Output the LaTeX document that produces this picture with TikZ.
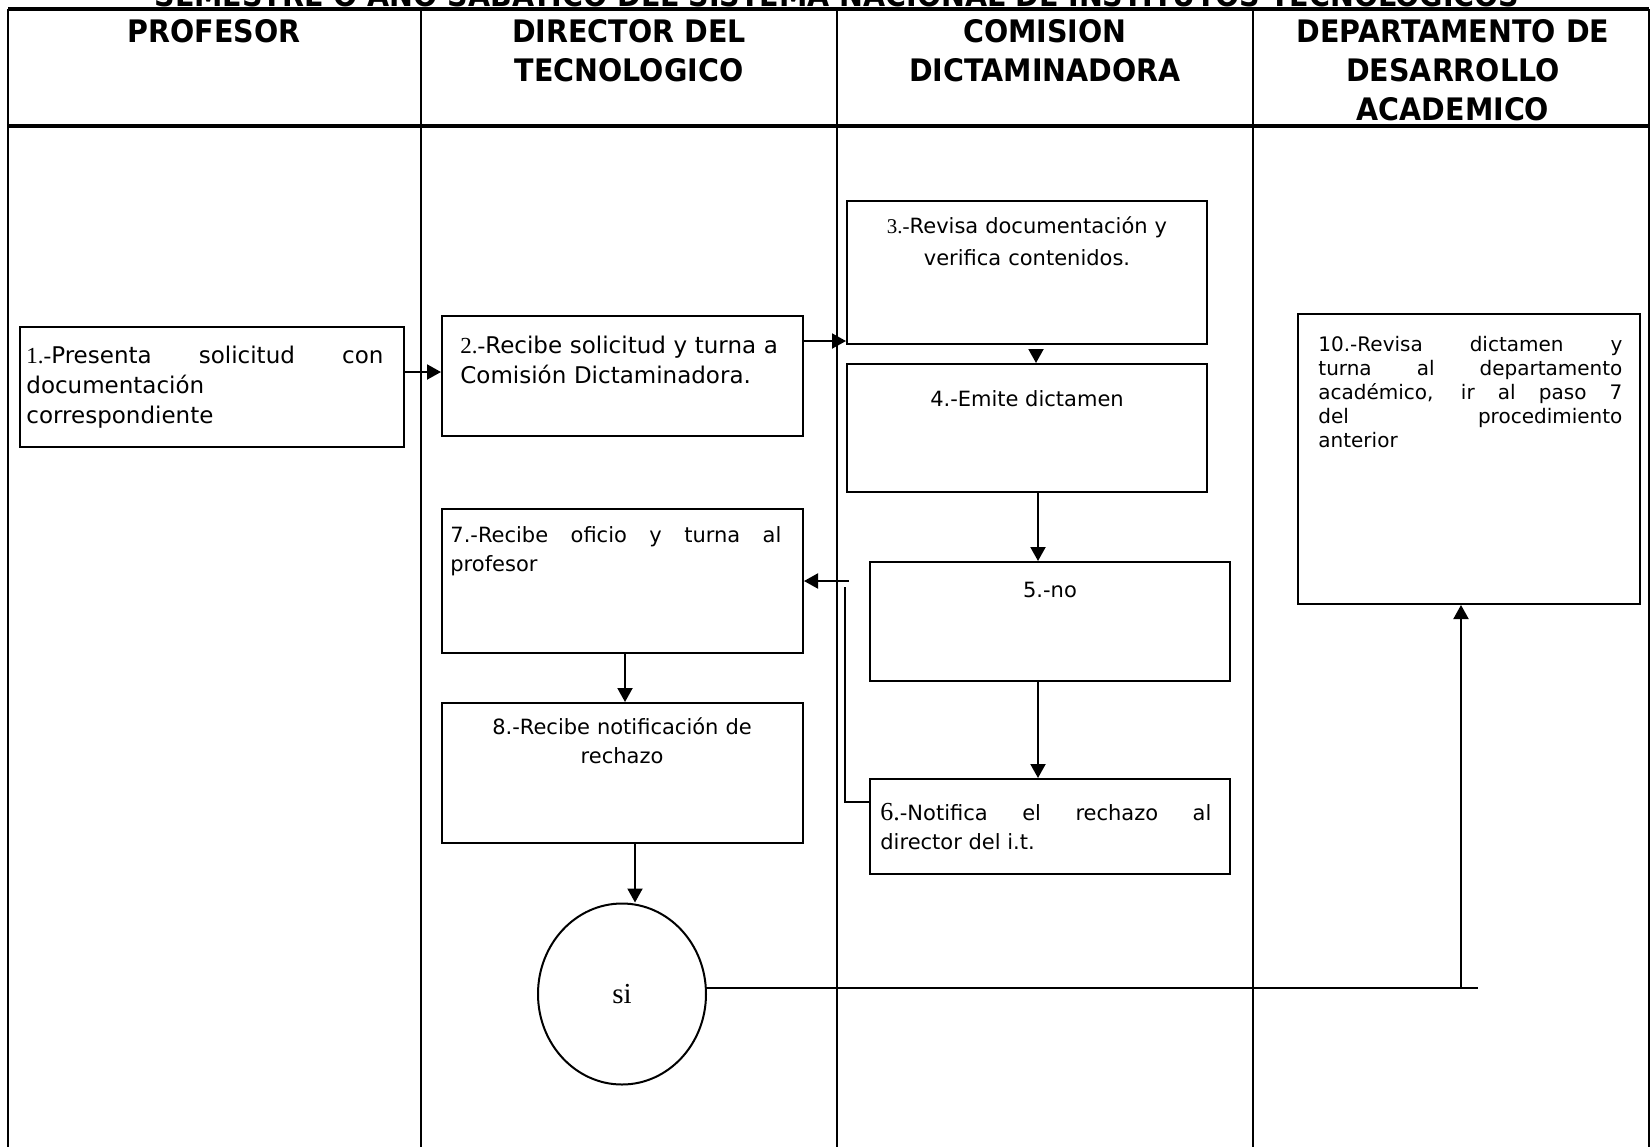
\documentclass[tikz,border=0pt]{standalone}
\usepackage{fontspec}
\setmainfont{DejaVu Sans}
\newfontfamily\headfont{DejaVu Sans Bold}[FakeStretch=0.92]
\newfontfamily\numfont{Liberation Serif}
\usetikzlibrary{arrows.meta,fit,shapes.geometric}

\tikzset{
  laneline/.style={line width=1.1pt},
  frameline/.style={line width=1.6pt},
  box/.style={draw, line width=1pt, inner sep=0pt},
  body/.style={inner sep=0pt, anchor=base west, align=justify},
  bodyc/.style={inner sep=0pt, anchor=base, align=center},
  big/.style={font=\fontsize{11.5}{15}\selectfont},
  mid/.style={font=\fontsize{10.5}{14.5}\selectfont},
  small/.style={font=\fontsize{10}{12}\selectfont},
  flow/.style={line width=1pt, -{Triangle[length=7pt,width=7.5pt]}},
  link/.style={line width=1pt},
  head/.style={font=\headfont\fontsize{15.5}{19.5}\selectfont, align=center, anchor=base,
               inner sep=0pt},
}

\begin{document}
\begin{tikzpicture}[x=0.5pt, y=-0.5pt]
\useasboundingbox (0,0) rectangle (1651,1147);

% title line, cut by the top of the page
\node[head] (title) at (837,6) {SEMESTRE O AÑO SABÁTICO DEL SISTEMA NACIONAL DE INSTITUTOS TECNOLÓGICOS};

% swimlane table
\draw[frameline] (8,9) -- (1649,9);
\draw[frameline] (8,126) -- (1649,126);
\foreach \x in {8,421,837,1253,1649}
  \draw[laneline] (\x,9) -- (\x,1147);

% lane headings
\node[head, text width=195pt] (h1) at (214,42) {PROFESOR};
\node[head, text width=195pt] (h2) at (629,42) {DIRECTOR DEL\\TECNOLOGICO};
\node[head, text width=195pt] (h3) at (1045,42) {COMISION\\DICTAMINADORA};
\node[head, text width=195pt] (h4) at (1453,42) {DEPARTAMENTO DE\\DESARROLLO\\ACADEMICO};

% step boxes
\node[box, fit={(20,327) (404,447)}] (b1) {};
\node[box, fit={(442,316) (803,436)}] (b2) {};
\node[box, fit={(847,201) (1207,344)}] (b3) {};
\node[box, fit={(847,364) (1207,492)}] (b4) {};
\node[box, fit={(870,562) (1230,681)}] (b5) {};
\node[box, fit={(870,779) (1230,874)}] (b6) {};
\node[box, fit={(442,509) (803,653)}] (b7) {};
\node[box, fit={(442,703) (803,843)}] (b8) {};
\node[box, fit={(1298,314) (1640,604)}] (b10) {};
\node[draw, ellipse, line width=1pt, minimum width=84pt, minimum height=90.5pt, inner sep=0pt,
      font=\numfont\fontsize{14.5}{16}\selectfont] (si) at (622,994) {si};

% step texts
\node[body, big, text width=178.5pt] (t1) at (26,363)
  {{\numfont 1.-}Presenta solicitud con\linebreak documentación\newline correspondiente};
\node[body, big, align=left, text width=172pt] (t2) at (460,353)
  {{\numfont 2.-}Recibe solicitud y turna a\\Comisión Dictaminadora.};
\node[bodyc, mid, text width=175pt, font=\fontsize{10.5}{16}\selectfont] (t3) at (1027,233)
  {{\numfont 3.-}Revisa documentación y\\verifica contenidos.};
\node[bodyc, mid] (t4) at (1027,406) {4.-Emite dictamen};
\node[bodyc, mid] (t5) at (1050,597) {5.-no};
\node[body, mid, text width=165.5pt] (t6) at (880,820)
  {{\numfont\fontsize{13}{14.5}\selectfont 6.}-Notifica el rechazo al\linebreak director del i.t.};
\node[body, mid, text width=165.5pt] (t7) at (450,542)
  {7.-Recibe oficio y turna al\linebreak profesor};
\node[bodyc, mid, text width=175pt] (t8) at (622,734) {8.-Recibe notificación de\\rechazo};
\node[body, small, text width=152pt] (t10) at (1318,351)
  {10.-Revisa dictamen y\linebreak turna al departamento\linebreak académico, ir al paso 7\linebreak del procedimiento\linebreak anterior};

% connectors
\coordinate (c12) at (0,372);
\draw[flow] (b1.east |- c12) -- (b2.west |- c12);
\coordinate (c23) at (0,341);
\draw[flow] (b2.east |- c23) -- (b3.west |- c23);
\coordinate (c34) at (1036,0);
\draw[flow] ([yshift=-2pt]b3.south -| c34) -- (b4.north -| c34);
\coordinate (c45) at (1038,0);
\draw[flow] (b4.south -| c45) -- (b5.north -| c45);
\draw[flow] (b5.south -| c45) -- (b6.north -| c45);
\coordinate (c67a) at (849,581);
\draw[flow] (c67a) -- (b7.east |- c67a);
\coordinate (c67b) at (845,587);
\coordinate (c67c) at (0,802);
\draw[link] (c67b) |- (b6.west |- c67c);
\coordinate (c78) at (625,0);
\draw[flow] (b7.south -| c78) -- (b8.north -| c78);
\coordinate (c89) at (635,0);
\draw[flow] (b8.south -| c89) -- (si.north -| c89);
\coordinate (cend) at (1478,988);
\coordinate (cup) at (1461,988);
\draw[link] (si.east |- cend) -- (cend);
\draw[flow] (cup) -- (b10.south -| cup);
\end{tikzpicture}
\end{document}
